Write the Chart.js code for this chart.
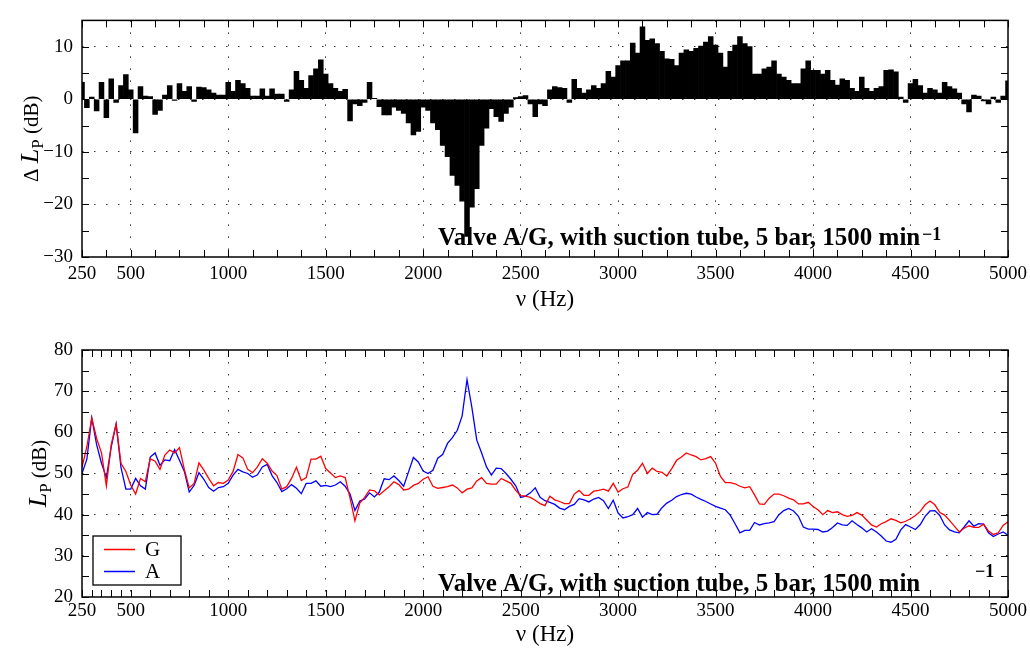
<!DOCTYPE html>
<html>
<head>
<meta charset="utf-8">
<title>Valve A/G, with suction tube</title>
<script src="https://cdn.jsdelivr.net/npm/chart.js@4/dist/chart.umd.min.js"></script>
<style>
    body { margin: 0; background: #fff; }
    #wrap { position: relative; width: 1030px; height: 657px; }
    canvas { position: absolute; left: 0; }
</style>
</head>
<body>
<div id="wrap">
    <canvas id="delta-chart" style="top:0px"></canvas>
    <canvas id="level-chart" style="top:325px"></canvas>
</div>
<script>
// frequency (Hz), one value every 25 Hz
var freq = [
    250, 275, 300, 325, 350, 375, 400, 425, 450, 475,
    500, 525, 550, 575, 600, 625, 650, 675, 700, 725,
    750, 775, 800, 825, 850, 875, 900, 925, 950, 975,
    1000, 1025, 1050, 1075, 1100, 1125, 1150, 1175, 1200, 1225,
    1250, 1275, 1300, 1325, 1350, 1375, 1400, 1425, 1450, 1475,
    1500, 1525, 1550, 1575, 1600, 1625, 1650, 1675, 1700, 1725,
    1750, 1775, 1800, 1825, 1850, 1875, 1900, 1925, 1950, 1975,
    2000, 2025, 2050, 2075, 2100, 2125, 2150, 2175, 2200, 2225,
    2250, 2275, 2300, 2325, 2350, 2375, 2400, 2425, 2450, 2475,
    2500, 2525, 2550, 2575, 2600, 2625, 2650, 2675, 2700, 2725,
    2750, 2775, 2800, 2825, 2850, 2875, 2900, 2925, 2950, 2975,
    3000, 3025, 3050, 3075, 3100, 3125, 3150, 3175, 3200, 3225,
    3250, 3275, 3300, 3325, 3350, 3375, 3400, 3425, 3450, 3475,
    3500, 3525, 3550, 3575, 3600, 3625, 3650, 3675, 3700, 3725,
    3750, 3775, 3800, 3825, 3850, 3875, 3900, 3925, 3950, 3975,
    4000, 4025, 4050, 4075, 4100, 4125, 4150, 4175, 4200, 4225,
    4250, 4275, 4300, 4325, 4350, 4375, 4400, 4425, 4450, 4475,
    4500, 4525, 4550, 4575, 4600, 4625, 4650, 4675, 4700, 4725,
    4750, 4775, 4800, 4825, 4850, 4875, 4900, 4925, 4950, 4975,
    5000
];

// level difference (dB), top plot
var deltaLp = [
    3.2, -1.6, 0.4, -2.2, 3.2, -3.5, 3.9, -0.6, 2.6, 4.7,
    1.8, -6.4, 2.4, 0.6, 0.5, -2.9, -2.1, 0.8, 2.6, -0.2,
    3.0, 1.5, 2.4, -0.4, 2.3, 2.2, 1.8, 1.2, 0.8, 0.8,
    3.2, 1.5, 3.6, 3.0, 2.1, 0.6, 0.6, 2.0, 0.6, 2.0,
    1.0, 1.0, -0.4, 1.8, 5.3, 3.6, 2.1, 4.5, 5.8, 7.5,
    4.8, 3.0, 2.1, 1.5, 1.9, -4.1, -0.9, -1.2, -0.6, 3.2,
    0.2, -1.4, -3.0, -3.0, -1.5, -2.1, -2.7, -4.5, -6.8, -6.1,
    -1.5, -2.1, -4.5, -5.8, -8.8, -10.9, -14.5, -16.4, -19.4, -26.1,
    -20.5, -17.0, -8.8, -5.5, -1.8, -3.3, -4.2, -2.7, -1.5, 0.3,
    0.5, 0.7, -0.9, -3.3, -0.9, -1.2, 1.8, 2.4, 2.2, 2.1,
    -0.6, 3.8, 2.1, 1.2, 1.8, 2.6, 2.1, 3.0, 5.3, 4.2,
    6.4, 7.3, 7.3, 10.7, 8.8, 13.8, 11.2, 11.5, 10.6, 9.1,
    7.7, 7.6, 6.4, 8.8, 9.4, 9.1, 9.7, 10.1, 10.9, 11.9,
    10.3, 8.8, 6.1, 9.1, 10.3, 11.9, 10.6, 10.0, 4.8, 4.8,
    5.8, 6.1, 7.3, 4.8, 4.2, 3.6, 3.0, 3.0, 5.8, 7.3,
    5.5, 5.5, 4.8, 5.5, 3.6, 2.7, 3.9, 3.6, 2.1, 1.5,
    4.2, 2.1, 1.5, 2.1, 2.4, 5.5, 5.6, 5.2, 0.4, -0.6,
    3.0, 3.8, 2.6, 1.2, 2.1, 1.8, 1.2, 3.2, 2.4, 2.0,
    1.2, -0.9, -2.4, 0.8, 0.6, -0.3, -0.9, 0.4, -0.6, 0.6,
    3.5
];

// sound pressure level G (dB)
var levelG = [
    51.5, 56.5, 63.5, 58.5, 55, 47, 57, 62, 52.5, 50.5,
    47.2, 45, 48.8, 48, 53.6, 53, 51, 54.5, 55.7, 55,
    56.3, 51, 46.5, 47.6, 52.6, 50.8, 48.8, 47, 47.8, 47.6,
    48.4, 50.5, 54.6, 53.8, 51, 50.2, 51.6, 53.6, 52.5, 50.6,
    49.5, 46.2, 46.8, 48.8, 51.5, 48.3, 49, 53.5, 53.5, 54.2,
    51.2, 50.1, 49, 49.4, 49, 44, 38.5, 42.8, 44.2, 46,
    45.8, 44.8, 45.8, 46.8, 48, 47.3, 46, 46.2, 47.1, 47.6,
    48.6, 49.2, 46.9, 46.4, 46.6, 46.8, 47.2, 46.5, 45.3, 46.2,
    46.5, 48.2, 49, 47.6, 47.4, 47.4, 48.8, 48.2, 47.6, 45.9,
    44.6, 44.5, 44.2, 43.5, 42.7, 42.2, 44.5, 43.6, 43.2, 42.7,
    42.7, 45, 45.9, 44.7, 44.7, 45.7, 45.9, 46.2, 45.7, 47.6,
    45.5, 46.3, 46.7, 49.8, 50.8, 52.5, 50, 51.3, 50.5, 50.3,
    49.4, 51.2, 53.2, 54, 55, 54.5, 54.1, 53.3, 53.6, 54.1,
    52.5, 49.3, 47.8, 47.8, 47.5, 46.9, 46.5, 46.8, 44.8, 42.6,
    42.5, 44, 45, 45, 44.6, 44, 43.6, 42.6, 42.6, 43,
    42, 41.2, 40, 41, 40.5, 40.7, 40, 39.6, 39.8, 40.5,
    39.9, 38.7, 37.5, 37, 37.8, 38.3, 39, 38.6, 38, 38.4,
    39, 39.8, 40.8, 42.4, 43.3, 42.4, 40.5, 39.9, 38.6, 37.2,
    35.8, 36.7, 37.3, 36.9, 36.9, 37.7, 36, 35.2, 35.6, 37.4,
    38.3
];

// sound pressure level A (dB)
var levelA = [
    50, 53.5, 63.5, 57, 52.5, 49, 56.5, 62, 51.5, 46.2,
    46.2, 48.8, 47, 46.2, 54, 55, 52, 53.3, 53.1, 55.8,
    53.2, 50.5, 45.5, 47.1, 50.2, 48.6, 46.6, 45.7, 46.6, 46.8,
    47.6, 49.6, 51, 50.4, 50, 49.1, 49.7, 51.6, 52.2, 49.5,
    47.8, 45.6, 46.3, 47.3, 46.4, 45.1, 47.6, 47.6, 48.2, 46.9,
    47.1, 46.8, 47.2, 48, 46.9, 45, 41, 43.3, 43.8, 45.3,
    44.3, 45.5, 48.7, 48.5, 49.4, 48.3, 46.9, 50.4, 53.9, 52.8,
    50.6, 50, 50.8, 53.7, 54.6, 57.3, 58.7, 60.5, 64, 72.8,
    66, 58.1, 55, 51.6, 49.6, 51.3, 51.2, 50, 48.6, 47,
    44.2, 44.5, 45.3, 46.5, 44.2, 43.4, 43, 42.5, 41.6, 41.2,
    42, 42.5, 43.9, 43.6, 43.1, 43.8, 44.2, 43.4, 41.5, 43.5,
    40.4, 39.2, 39.5, 40, 41.5, 39.4, 40.5, 40, 40.1, 41.7,
    42.8, 43.5, 44.4, 44.9, 45.2, 45, 44.3, 43.7, 43.2, 42.6,
    42, 41.6, 41.2, 39.9, 37.8, 35.6, 36.2, 36.2, 38.1, 37.5,
    37.8, 38, 38.3, 40, 41, 41.5, 40.9, 39.6, 37, 36.5,
    36.5, 36.4, 35.8, 36, 36.9, 38, 37.5, 37.4, 38.5, 37.6,
    36.8, 35.8, 36.6, 35.8, 34.8, 33.6, 33.3, 34, 36.3, 37.6,
    37, 36.4, 37.6, 39.6, 40.9, 41, 39.8, 37.5, 36.3, 35.8,
    35.6, 37, 38.5, 37.2, 37.8, 37.7, 35.6, 34.7, 35.3, 35.8,
    35
];

var seriesNames = ['G', 'A'];
var seriesColors = ['#ff0000', '#0000ff'];

// tick labels and grid positions
var xLabelTicks = [250, 500, 1000, 1500, 2000, 2500, 3000, 3500, 4000, 4500, 5000];
var xGridTicks = [500, 1000, 1500, 2000, 2500, 3000, 3500, 4000, 4500];
var deltaYTicks = [-30, -20, -10, 0, 10];
var levelYTicks = [20, 30, 40, 50, 60, 70, 80];

var noteText = 'Valve A/G, with suction tube, 5 bar, 1500 min';

var SERIF = "'Liberation Serif', 'Times New Roman', serif";

// small inward tick marks (matlab style)
var deltaMinorX = [];
for (var v = 250; v <= 5000; v += 125) deltaMinorX.push(v);
var levelMinorX = [250, 300, 350, 400, 450];
for (var v = 500; v <= 5000; v += 100) levelMinorX.push(v);
var deltaMinorY = [];
for (var v = -30; v <= 15; v += 5) deltaMinorY.push(v);
var levelMinorY = [];
for (var v = 20; v <= 80; v += 5) levelMinorY.push(v);

function fmtTick(value) {
    return value < 0 ? '\u2212' + Math.abs(value) : String(value);
}

function drawYTitle(ctx, parts, cx, cy) {
    ctx.save();
    ctx.translate(cx, cy);
    ctx.rotate(-Math.PI / 2);
    ctx.fillStyle = '#000';
    ctx.textBaseline = 'alphabetic';
    var total = 0;
    parts.forEach(function (p) {
        ctx.font = p.font;
        p.w = ctx.measureText(p.text).width;
        total += p.w;
    });
    var xx = -total / 2;
    parts.forEach(function (p) {
        ctx.font = p.font;
        ctx.fillText(p.text, xx, p.dy || 0);
        xx += p.w;
    });
    ctx.restore();
}

var framePlugin = {
    id: 'frame',
    afterDraw: function (chart, args, opts) {
        var ctx = chart.ctx;
        var a = chart.chartArea;
        var x = chart.scales.x;
        var y = chart.scales.y;
        ctx.save();

        // inward ticks on all four sides
        ctx.strokeStyle = '#000';
        ctx.lineWidth = 1;
        ctx.beginPath();
        opts.minorX.forEach(function (v) {
            var px = Math.round(x.getPixelForValue(v)) + 0.5;
            ctx.moveTo(px, a.bottom); ctx.lineTo(px, a.bottom - 7);
            ctx.moveTo(px, a.top); ctx.lineTo(px, a.top + 7);
        });
        opts.minorY.forEach(function (v) {
            var py = Math.round(y.getPixelForValue(v)) + 0.5;
            ctx.moveTo(a.left, py); ctx.lineTo(a.left + 7, py);
            ctx.moveTo(a.right, py); ctx.lineTo(a.right - 7, py);
        });
        ctx.stroke();

        // box
        ctx.lineWidth = 1.5;
        ctx.strokeRect(a.left, a.top, a.right - a.left, a.bottom - a.top);

        // axis title with italic L and subscript P
        drawYTitle(ctx, opts.yTitle, opts.yTitleX, (a.top + a.bottom) / 2);

        // annotation
        ctx.fillStyle = '#000';
        ctx.textBaseline = 'alphabetic';
        ctx.textAlign = 'left';
        ctx.font = 'bold 25px ' + SERIF;
        ctx.fillText(noteText, 438, opts.noteY);
        ctx.font = 'bold 18px ' + SERIF;
        ctx.fillText('\u22121', opts.supX, opts.supY);

        // legend box
        if (opts.legend) {
            var L = opts.legend;
            ctx.fillStyle = '#fff';
            ctx.fillRect(L.x, L.y, L.w, L.h);
            ctx.lineWidth = 1.3;
            ctx.strokeStyle = '#000';
            ctx.strokeRect(L.x, L.y, L.w, L.h);
            ctx.font = '21px ' + SERIF;
            ctx.textBaseline = 'middle';
            chart.data.datasets.forEach(function (ds, i) {
                var ly = L.y + 13.5 + i * 22;
                ctx.strokeStyle = ds.borderColor;
                ctx.lineWidth = 1.5;
                ctx.beginPath();
                ctx.moveTo(L.x + 11, ly);
                ctx.lineTo(L.x + 42, ly);
                ctx.stroke();
                ctx.fillStyle = '#000';
                ctx.fillText(ds.label, L.x + 52, ly + 1);
            });
        }
        ctx.restore();
    }
};

function xAxis(height, labelPad, titlePad) {
    return {
        type: 'linear',
        min: 250,
        max: 5000,
        offset: false,
        afterBuildTicks: function (s) {
            s.ticks = xLabelTicks.map(function (v) { return { value: v }; });
        },
        afterFit: function (s) {
            s.height = height;
            s.paddingLeft = 0;
            s.paddingRight = 0;
        },
        ticks: {
            autoSkip: false,
            maxRotation: 0,
            padding: labelPad,
            color: '#000',
            font: { family: SERIF, size: 19 },
            callback: function (value) { return fmtTick(value); }
        },
        grid: {
            offset: false,
            drawTicks: false,
            lineWidth: 1,
            color: function (c) {
                return c.tick && xGridTicks.indexOf(c.tick.value) >= 0 ? '#333' : 'rgba(0,0,0,0)';
            }
        },
        border: { display: false, dash: [1.5, 10.5] },
        title: {
            display: true,
            text: '\u03bd (Hz)',
            color: '#000',
            font: { family: SERIF, size: 23 },
            padding: { top: 0, bottom: titlePad }
        }
    };
}

function yAxis(min, max, ticks, gridTicks) {
    return {
        min: min,
        max: max,
        afterBuildTicks: function (s) {
            s.ticks = ticks.map(function (v) { return { value: v }; });
        },
        afterFit: function (s) { s.width = 82; },
        ticks: {
            padding: 9,
            color: '#000',
            font: { family: SERIF, size: 19 },
            callback: function (value) { return fmtTick(value); }
        },
        grid: {
            drawTicks: false,
            lineWidth: 1,
            color: function (c) {
                return c.tick && gridTicks.indexOf(c.tick.value) >= 0 ? '#333' : 'rgba(0,0,0,0)';
            }
        },
        border: { display: false, dash: [1.5, 10.5] }
    };
}

function makeCanvas(id, h) {
    var c = document.getElementById(id);
    c.width = 1030;
    c.height = h;
    c.style.width = '1030px';
    c.style.height = h + 'px';
    return c.getContext('2d');
}

var deltaChart = new Chart(makeCanvas('delta-chart', 325), {
    type: 'bar',
    data: {
        datasets: [{
            label: '\u0394 LP',
            data: freq.map(function (f, i) { return { x: f, y: deltaLp[i] }; }),
            backgroundColor: '#000',
            borderWidth: 0,
            barPercentage: 1,
            categoryPercentage: 1
        }]
    },
    options: {
        responsive: false,
        animation: false,
        layout: { padding: { top: 10, right: 22, left: 0, bottom: 0 } },
        plugins: {
            legend: { display: false },
            tooltip: { enabled: false },
            frame: {
                minorX: deltaMinorX,
                minorY: deltaMinorY,
                yTitle: [
                    { text: '\u0394 ', font: '21px ' + SERIF },
                    { text: 'L', font: 'italic 26px ' + SERIF },
                    { text: 'P', font: '17px ' + SERIF, dy: 5 },
                    { text: ' (dB)', font: '21px ' + SERIF }
                ],
                yTitleX: 38,
                noteY: 245,
                supX: 922,
                supY: 240
            }
        },
        scales: {
            x: xAxis(68, 6, 11),
            y: yAxis(-30, 15, deltaYTicks, [-20, -10, 0, 10])
        }
    },
    plugins: [framePlugin]
});

var levelChart = new Chart(makeCanvas('level-chart', 332), {
    type: 'line',
    data: {
        datasets: [
            {
                label: seriesNames[0],
                data: freq.map(function (f, i) { return { x: f, y: levelG[i] }; }),
                borderColor: seriesColors[0],
                borderWidth: 1.3,
                pointRadius: 0,
                fill: false
            },
            {
                label: seriesNames[1],
                data: freq.map(function (f, i) { return { x: f, y: levelA[i] }; }),
                borderColor: seriesColors[1],
                borderWidth: 1.3,
                pointRadius: 0,
                fill: false
            }
        ]
    },
    options: {
        responsive: false,
        animation: false,
        layout: { padding: { top: 25, right: 22, left: 0, bottom: 0 } },
        plugins: {
            legend: { display: false },
            tooltip: { enabled: false },
            frame: {
                minorX: levelMinorX,
                minorY: levelMinorY,
                yTitle: [
                    { text: 'L', font: 'italic 26px ' + SERIF },
                    { text: 'P', font: '17px ' + SERIF, dy: 5 },
                    { text: ' (dB)', font: '21px ' + SERIF }
                ],
                yTitleX: 46,
                noteY: 266,
                supX: 975,
                supY: 252,
                legend: { x: 93, y: 211, w: 88, h: 49 }
            }
        },
        scales: {
            x: xAxis(60, 3, 8),
            y: yAxis(20, 80, levelYTicks, [30, 40, 50, 60, 70])
        }
    },
    plugins: [framePlugin]
});
</script>
</body>
</html>
